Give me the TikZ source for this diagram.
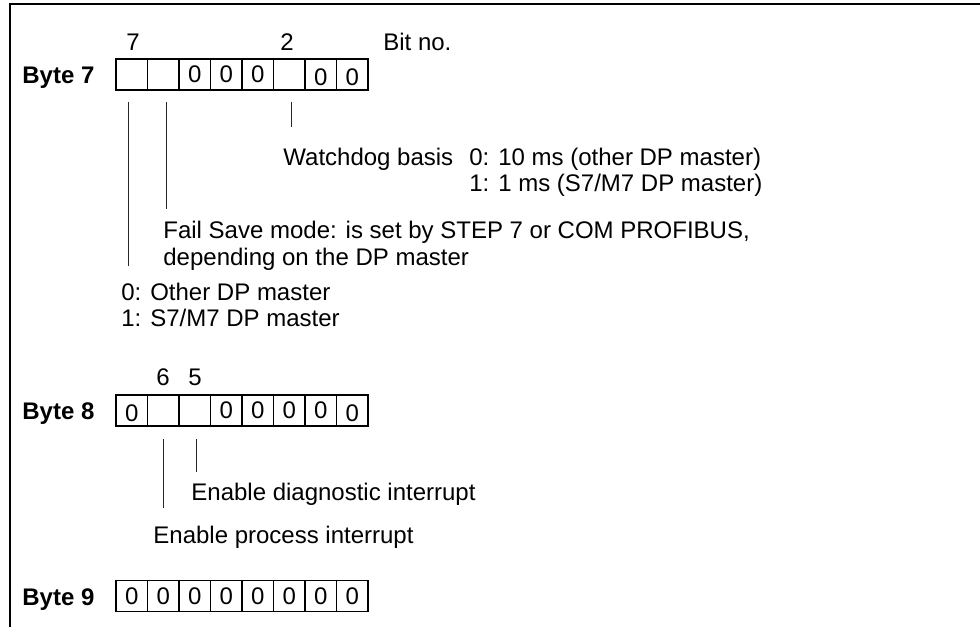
\documentclass[tikz,border=0pt]{standalone}
\usepackage{fontspec}
\setmainfont{Liberation Sans}
\begin{document}
\begin{tikzpicture}[x=0.5pt,y=-0.5pt,
  font=\fontsize{12}{13}\selectfont,
  txt/.style={inner sep=0pt, anchor=base west},
  num/.style={inner sep=0pt, anchor=base},
  lbl/.style={inner sep=0pt, anchor=base west, font=\fontsize{12}{13}\selectfont\bfseries},
  cell/.style={draw, line width=0.75pt, minimum width=15.75pt, minimum height=15.5pt, inner sep=0pt, outer sep=0pt},
  ctext/.style={inner sep=0pt},
  tick/.style={draw=black!85, line width=0.5pt},
  frame/.style={draw, line width=1pt}]
\useasboundingbox (0,0) rectangle (980,627);
% frame (top and left edges only)
\coordinate (fa) at (980,4);
\coordinate (fb) at (10,4);
\coordinate (fc) at (10,627);
\draw[frame] (fa) -- (fb) -- (fc);

% ---------- Byte 7 ----------
\node[num] (h7) at (133,50.5) {7};
\node[num] (h2) at (287,50.5) {2};
\node[txt] (bitno) at (383,50.5) {Bit no.};
\node[lbl] (byte7) at (22,83.5) {Byte 7};
\foreach \v/\d [count=\i from 0] in {{}/0,{}/0,0/0,0/0,0/0,{}/0,0/3,0/3}{
  \node[cell] (r7c\i) at ({131.75+31.5*\i},74.5) {};
  \node[ctext] (r7t\i) at ([yshift={-\d*0.5pt}]r7c\i.center) {\v};
}
\coordinate (l7a) at (128,102);
\coordinate (l7b) at (128,266);
\coordinate (l6a) at (166,102);
\coordinate (l6b) at (166,209);
\coordinate (l2a) at (291,102);
\coordinate (l2b) at (291,127);
\draw[tick] (l7a) -- (l7b);
\draw[tick] (l6a) -- (l6b);
\draw[tick] (l2a) -- (l2b);
\node[txt] (wd) at (283,165.5) {Watchdog basis};
\node[txt] (wd0) at (469,165.5) {0: 10 ms (other DP master)};
\node[txt] (wd1) at (469,191.5) {1: 1 ms (S7/M7 DP master)};
\node[txt] (fs1) at (163,238.5) {Fail Save mode: is set by STEP 7 or COM PROFIBUS,};
\node[txt] (fs2) at (163,265.5) {depending on the DP master};
\node[txt] (dp0) at (121,300.5) {0: Other DP master};
\node[txt] (dp1) at (121,326.5) {1: S7/M7 DP master};

% ---------- Byte 8 ----------
\node[num] (h6) at (163,385.5) {6};
\node[num] (h5) at (195,385.5) {5};
\node[lbl] (byte8) at (22,419.5) {Byte 8};
\foreach \v/\d [count=\i from 0] in {0/3,{}/0,{}/0,0/0,0/0,0/0,0/0,0/3}{
  \node[cell] (r8c\i) at ({131.75+31.5*\i},410.5) {};
  \node[ctext] (r8t\i) at ([yshift={-\d*0.5pt}]r8c\i.center) {\v};
}
\coordinate (m6a) at (163,439);
\coordinate (m6b) at (163,508);
\coordinate (m5a) at (196,439);
\coordinate (m5b) at (196,472);
\draw[tick] (m6a) -- (m6b);
\draw[tick] (m5a) -- (m5b);
\node[txt] (endiag) at (191,500.5) {Enable diagnostic interrupt};
\node[txt] (enproc) at (153,543.5) {Enable process interrupt};

% ---------- Byte 9 ----------
\node[lbl] (byte9) at (22,605.5) {Byte 9};
\foreach \i in {0,...,7}{
  \node[cell] (r9c\i) at ({131.75+31.5*\i},596) {0};
}
\end{tikzpicture}
\end{document}
